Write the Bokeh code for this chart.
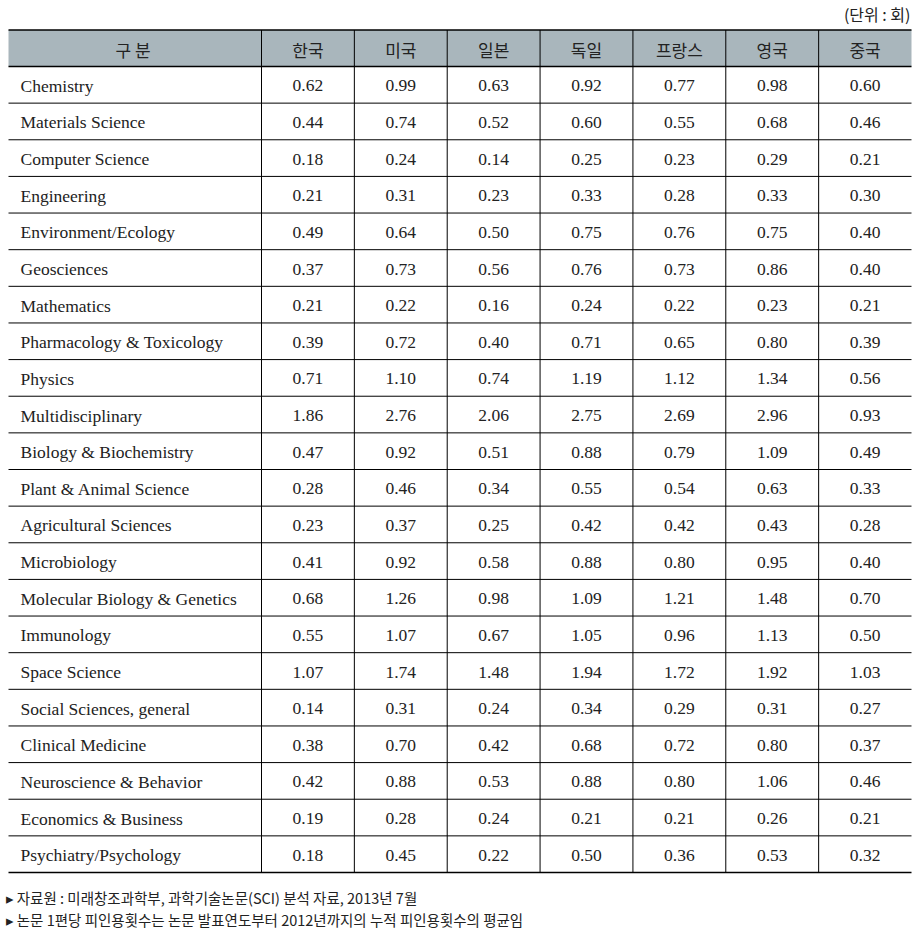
from bokeh.plotting import figure
from bokeh.models import ColumnDataSource
from bokeh.embed import file_html
from bokeh.resources import INLINE
from bokeh.core.properties import value

categories = ["Chemistry", "Materials Science", "Computer Science", "Engineering",
              "Environment/Ecology", "Geosciences", "Mathematics", "Pharmacology & Toxicology",
              "Physics", "Multidisciplinary", "Biology & Biochemistry", "Plant & Animal Science",
              "Agricultural Sciences", "Microbiology", "Molecular Biology & Genetics", "Immunology",
              "Space Science", "Social Sciences, general", "Clinical Medicine",
              "Neuroscience & Behavior", "Economics & Business", "Psychiatry/Psychology"]
countries = ["한국", "미국", "일본", "독일", "프랑스", "영국", "중국"]
korea   = [0.62, 0.44, 0.18, 0.21, 0.49, 0.37, 0.21, 0.39, 0.71, 1.86, 0.47, 0.28, 0.23, 0.41, 0.68, 0.55, 1.07, 0.14, 0.38, 0.42, 0.19, 0.18]
usa     = [0.99, 0.74, 0.24, 0.31, 0.64, 0.73, 0.22, 0.72, 1.10, 2.76, 0.92, 0.46, 0.37, 0.92, 1.26, 1.07, 1.74, 0.31, 0.70, 0.88, 0.28, 0.45]
japan   = [0.63, 0.52, 0.14, 0.23, 0.50, 0.56, 0.16, 0.40, 0.74, 2.06, 0.51, 0.34, 0.25, 0.58, 0.98, 0.67, 1.48, 0.24, 0.42, 0.53, 0.24, 0.22]
germany = [0.92, 0.60, 0.25, 0.33, 0.75, 0.76, 0.24, 0.71, 1.19, 2.75, 0.88, 0.55, 0.42, 0.88, 1.09, 1.05, 1.94, 0.34, 0.68, 0.88, 0.21, 0.50]
france  = [0.77, 0.55, 0.23, 0.28, 0.76, 0.73, 0.22, 0.65, 1.12, 2.69, 0.79, 0.54, 0.42, 0.80, 1.21, 0.96, 1.72, 0.29, 0.72, 0.80, 0.21, 0.36]
uk      = [0.98, 0.68, 0.29, 0.33, 0.75, 0.86, 0.23, 0.80, 1.34, 2.96, 1.09, 0.63, 0.43, 0.95, 1.48, 1.13, 1.92, 0.31, 0.80, 1.06, 0.26, 0.53]
china   = [0.60, 0.46, 0.21, 0.30, 0.40, 0.40, 0.21, 0.39, 0.56, 0.93, 0.49, 0.33, 0.28, 0.40, 0.70, 0.50, 1.03, 0.27, 0.37, 0.46, 0.21, 0.32]
series = [korea, usa, japan, germany, france, uk, china]
header_label = "구  분"
unit_label = "(단위 : 회)"
notes = ["▸ 자료원 : 미래창조과학부, 과학기술논문(SCI) 분석 자료, 2013년 7월",
         "▸ 논문 1편당 피인용횟수는 논문 발표연도부터 2012년까지의 누적 피인용횟수의 평균임"]

# layout (page pixel coordinates)
X0, X1 = 8, 911
FIRST_W = 253
TOP, HEAD_H = 29.5, 36.5
ROW_H = (872 - 66) / len(categories)
COL_W = (X1 - X0 - FIRST_W) / len(countries)
col_edges = [X0 + FIRST_W + i * COL_W for i in range(len(countries) + 1)]
BOTTOM = TOP + HEAD_H + ROW_H * len(categories)

W, H = 920, 930
p = figure(width=W, height=H, x_range=(0, W), y_range=(H, 0),
           output_backend="svg", toolbar_location=None, min_border=0)
p.axis.visible = False
p.grid.visible = False
p.outline_line_color = None
p.background_fill_color = "white"

# header fill
p.quad(left=[X0], right=[X1], top=[TOP], bottom=[TOP + HEAD_H],
       fill_color="#a9b6bc", line_color=None)

# horizontal lines
ys = [TOP + HEAD_H + ROW_H * i for i in range(1, len(categories))]
p.segment(x0=[X0] * len(ys), x1=[X1] * len(ys), y0=ys, y1=ys, line_color="black", line_width=1)
thick = [TOP, TOP + HEAD_H, BOTTOM]
p.segment(x0=[X0] * 3, x1=[X1] * 3, y0=thick, y1=thick, line_color="black", line_width=1.6)
# vertical lines
vx = col_edges[:-1]
p.segment(x0=vx, x1=vx, y0=[TOP] * len(vx), y1=[BOTTOM] * len(vx), line_color="black", line_width=1)

# header texts
hx = [X0 + FIRST_W / 2] + [col_edges[i] + COL_W / 2 for i in range(len(countries))]
hy = [TOP + HEAD_H / 2 + 1] * len(hx)
p.text(x=hx, y=hy, text=[header_label] + countries, text_align="center", text_baseline="middle",
       text_font=value("Noto Sans CJK KR"), text_font_size="17px", text_color="#222222")

# category labels
cy = [TOP + HEAD_H + ROW_H * (i + 0.5) + 1 for i in range(len(categories))]
p.text(x=[20] * len(categories), y=cy, text=categories, text_align="left", text_baseline="middle",
       text_font=value("Liberation Serif"), text_font_size="17.5px", text_color="#222222")

# values
vxs, vys, vts = [], [], []
for j, s in enumerate(series):
    for i, v in enumerate(s):
        vxs.append(col_edges[j] + COL_W / 2)
        vys.append(cy[i])
        vts.append(f"{v:.2f}")
src = ColumnDataSource(dict(x=vxs, y=vys, t=vts))
p.text(x="x", y="y", text="t", source=src, text_align="center", text_baseline="middle",
       text_font=value("Liberation Serif"), text_font_size="17.5px", text_color="#222222")

# unit label
p.text(x=[910], y=[13], text=[unit_label], text_align="right", text_baseline="middle",
       text_font=value("Noto Sans CJK KR"), text_font_size="16px", text_color="#222222")

# notes
p.text(x=[5, 5], y=[897, 919], text=notes, text_align="left", text_baseline="middle",
       text_font=value("Noto Sans CJK KR"), text_font_size="14.5px", text_color="#222222")

open("out.html", "w").write(file_html(p, INLINE))
